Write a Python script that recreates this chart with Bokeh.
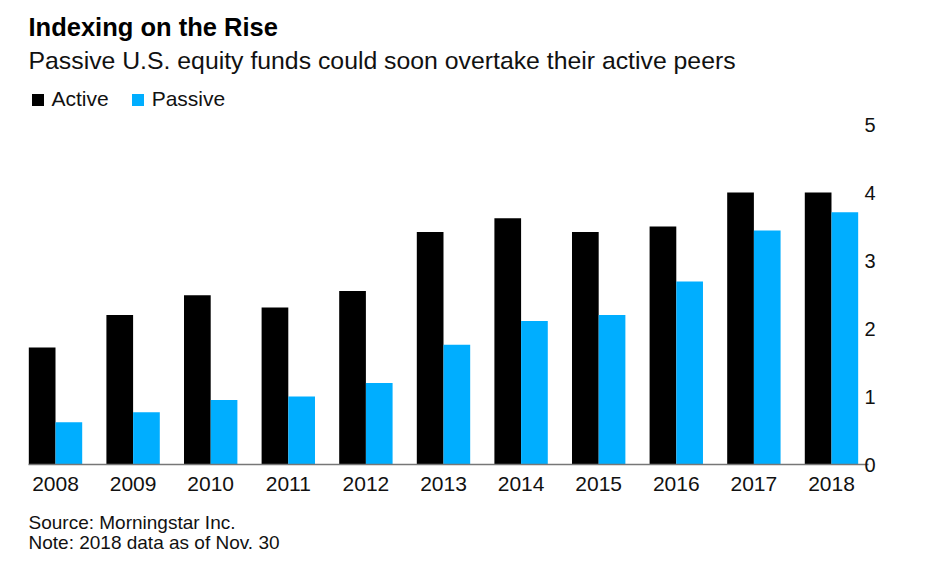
from bokeh.plotting import figure
from bokeh.models import (ColumnDataSource, Range1d, FixedTicker, LinearAxis,
                          Label, Legend, LegendItem)
from bokeh.transform import dodge
from bokeh.embed import file_html
from bokeh.resources import INLINE

# ---- data ----
years = ["2008", "2009", "2010", "2011", "2012", "2013",
         "2014", "2015", "2016", "2017", "2018"]
active = [1.72, 2.20, 2.49, 2.31, 2.55, 3.42, 3.62, 3.42, 3.50, 4.00, 4.00]
passive = [0.62, 0.77, 0.95, 1.00, 1.20, 1.76, 2.11, 2.20, 2.69, 3.44, 3.71]
y_ticks = [0, 1, 2, 3, 4, 5]

title_text = "Indexing on the Rise"
subtitle_text = "Passive U.S. equity funds could soon overtake their active peers"
source_text = "Source: Morningstar Inc."
note_text = "Note: 2018 data as of Nov. 30"

FONT = "Liberation Sans"
BLACK = "#000000"
BLUE = "#00AEFF"
TEXT = "#111111"

W, H = 928, 565
idx = list(range(len(years)))
src = ColumnDataSource(dict(x=idx, active=active, passive=passive))

# plot frame covers the whole canvas; bar area spans x 28..868, y 124..464 px
X_START, X_END = -0.348, 10.477
x_span = (X_END - X_START) * W / 840.0
y_px = 340.0 / 5.0
y_start = -(H - 464) / y_px
y_end = y_start + H / y_px

p = figure(width=W, height=H, output_backend="svg", toolbar_location=None,
           x_range=Range1d(X_START - 28 * (X_END - X_START) / 840.0,
                           X_START - 28 * (X_END - X_START) / 840.0 + x_span),
           y_range=Range1d(y_start, y_end),
           min_border=0, x_axis_location=None, y_axis_location=None)
p.outline_line_color = None
p.background_fill_color = "white"
p.border_fill_color = "white"
p.xgrid.visible = False
p.ygrid.visible = False

bw = 0.344
r_act = p.vbar(x=dodge("x", -bw / 2), top="active", width=bw, source=src,
               fill_color=BLACK, line_color=None)
r_pas = p.vbar(x=dodge("x", bw / 2), top="passive", width=bw, source=src,
               fill_color=BLUE, line_color=None)

# x axis (baseline at 0)
xa = LinearAxis(ticker=FixedTicker(ticks=idx), fixed_location=0,
                bounds=(X_START, X_END),
                major_label_overrides={i: y for i, y in zip(idx, years)})
xa.axis_line_color = "#777777"
xa.axis_line_width = 1.5
xa.major_tick_line_color = None
xa.minor_tick_line_color = None
xa.major_label_standoff = 6
xa.major_label_text_font = FONT
xa.major_label_text_font_size = "21px"
xa.major_label_text_color = TEXT
p.add_layout(xa, "below")

# y axis on the right
ya = LinearAxis(ticker=FixedTicker(ticks=y_ticks), fixed_location=X_END,
                bounds=(0, 5))
ya.axis_line_color = None
ya.major_tick_line_color = None
ya.minor_tick_line_color = None
ya.major_label_standoff = -10
ya.major_label_text_font = FONT
ya.major_label_text_font_size = "20px"
ya.major_label_text_color = TEXT
p.add_layout(ya, "right")

# legend
legend = Legend(items=[LegendItem(label="Active", renderers=[r_act]),
                       LegendItem(label="Passive", renderers=[r_pas])],
                orientation="horizontal", location=(29.5, H - 111),
                glyph_width=15, glyph_height=15, label_standoff=7, spacing=21,
                padding=0, margin=0, border_line_color=None,
                background_fill_alpha=0, label_text_font=FONT,
                label_text_font_size="21px", label_text_color=TEXT,
                label_height=15)
p.add_layout(legend, "center")

# titles and notes (screen units, measured from bottom-left of canvas)
def add_text(txt, baseline_from_top, size_px, style="normal", color=TEXT):
    shift = 0.4 * size_px
    p.add_layout(Label(x=28, y=H - baseline_from_top + shift, x_units="screen",
                       y_units="screen", text=txt, text_font=FONT,
                       text_font_size=f"{size_px}px", text_font_style=style,
                       text_color=color, text_baseline="alphabetic"))

add_text(title_text, 37, 25.5, "bold", "#000000")
add_text(subtitle_text, 70, 24.8)
add_text(source_text, 530, 19)
add_text(note_text, 550, 19)

open("out.html", "w").write(file_html(p, INLINE))
